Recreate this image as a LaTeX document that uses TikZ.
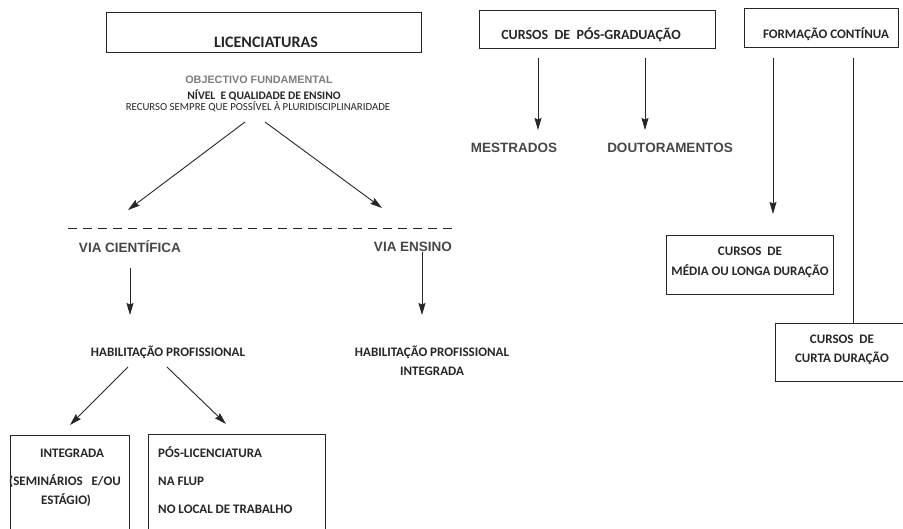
\documentclass[tikz,border=0pt]{standalone}
\usepackage{fontspec}
\setmainfont{Carlito}
\newfontfamily\heavyfont{Liberation Sans}
\usetikzlibrary{arrows.meta}
\definecolor{ink}{RGB}{38,38,38}
\definecolor{faded}{RGB}{125,125,125}
\definecolor{shade}{RGB}{70,70,70}

\begin{document}
\begin{tikzpicture}[x=1pt, y=-1pt,
  >={Stealth[length=12pt,width=7pt,inset=1.5pt]},
  box/.style={draw=ink, line width=0.9pt, inner sep=0pt},
  txt/.style={text=ink, inner sep=0pt, font=\fontsize{13}{15}\selectfont\bfseries},
  head/.style={text=ink, inner sep=0pt, font=\fontsize{16}{18}\selectfont\bfseries},
  thick/.style={text=shade, inner sep=0pt, font=\heavyfont\fontsize{13.5}{15}\selectfont\bfseries},
  arr/.style={->, draw=ink, line width=0.9pt}]

\useasboundingbox (0,0) rectangle (903,528);
\clip (0,0) rectangle (903,528);

% licenciaturas
\node[box, minimum width=315pt, minimum height=40pt] (lic) at (263.5,32) {};
\node[head] (lic-t) at (266,42) {LICENCIATURAS};
\node[text=faded, inner sep=0pt, font=\heavyfont\fontsize{10.8}{12}\selectfont\bfseries] (obj) at (259,80) {OBJECTIVO FUNDAMENTAL};
\node[text=ink, inner sep=0pt, font=\fontsize{11.5}{12}\selectfont\bfseries] (niv) at (264,95) {NÍVEL\ \ E QUALIDADE DE ENSINO};
\node[text=ink, inner sep=0pt, font=\fontsize{10.8}{12}\selectfont] (rec) at (258,107) {RECURSO SEMPRE QUE POSSÍVEL À PLURIDISCIPLINARIDADE};
\coordinate (rec-l) at (245,122);
\coordinate (rec-r) at (265,122);
\coordinate (via-l) at (128,210);
\coordinate (via-r) at (382,208);
\draw[arr] (rec-l) -- (via-l);
\draw[arr] (rec-r) -- (via-r);

% dashed divide
\coordinate (cut-a) at (68,228);
\coordinate (cut-b) at (455,228);
\draw[ink, line width=0.8pt, dash pattern=on 9pt off 6pt] (cut-a) -- (cut-b);

% the two ways
\node[thick] (cien) at (130,247) {VIA CIENTÍFICA};
\node[thick] (ens) at (413,247) {VIA ENSINO};
\node[txt] (hab) at (168,352) {HABILITAÇÃO PROFISSIONAL};
\node[txt, align=center, font=\fontsize{13}{19}\selectfont\bfseries] (habi) at (432,361) {HABILITAÇÃO PROFISSIONAL\\INTEGRADA};
\draw[arr] (cien.south |- 0,268) -- (cien.south |- 0,315);
\draw[arr] (ens.south -| 422,0) -- (422,315);

% after the habilitation
\coordinate (hab-l) at (128,367);
\coordinate (hab-r) at (167,367);
\coordinate (int-n) at (70,425);
\coordinate (pos-n) at (226,424);
\draw[arr] (hab-l) -- (int-n);
\draw[arr] (hab-r) -- (pos-n);

\node[box, minimum width=119pt, minimum height=105pt] (int) at (69.5,487.5) {};
\node[txt] (int-a) at (72,453) {INTEGRADA};
\node[txt] (int-b) at (65,481) {(SEMINÁRIOS\ \ \ E/OU};
\node[txt] (int-c) at (66,500) {ESTÁGIO)};

\node[box, minimum width=177pt, minimum height=106pt] (pos) at (236.5,487) {};
\node[txt, anchor=west] (pos-a) at (158,452) {PÓS-LICENCIATURA};
\node[txt, anchor=west] (pos-b) at (158,481) {NA FLUP};
\node[txt, anchor=west] (pos-c) at (158,509) {NO LOCAL DE TRABALHO};

% pos-graduacao
\node[box, minimum width=236pt, minimum height=38pt] (cpg) at (597,29) {};
\node[txt, font=\fontsize{14}{16}\selectfont\bfseries] (cpg-t) at (591,35) {CURSOS\ \ DE\ \ PÓS-GRADUAÇÃO};
\node[thick] (mes) at (514,148) {MESTRADOS};
\node[thick] (dout) at (670,148) {DOUTORAMENTOS};
\coordinate (cpg-l) at (538,58);
\coordinate (cpg-r) at (645,58);
\draw[arr] (cpg-l) -- (538,130);
\draw[arr] (cpg-r) -- (645,130);

% formacao continua
\node[box, minimum width=154pt, minimum height=39pt] (fc) at (821,27.5) {};
\node[txt] (fc-t) at (826,34) {FORMAÇÃO CONTÍNUA};
\node[box, minimum width=167pt, minimum height=59pt] (med) at (749.5,264.5) {};
\node[txt, align=center, font=\fontsize{13}{20}\selectfont\bfseries] (med-t) at (750,262) {CURSOS\ \ DE\\MÉDIA OU LONGA DURAÇÃO};
\node[box, minimum width=145pt, minimum height=58pt] (cur) at (847.5,352) {};
\node[txt, align=center, font=\fontsize{13}{19}\selectfont\bfseries] (cur-t) at (842,350) {CURSOS\ \ DE\\CURTA DURAÇÃO};
\coordinate (fc-l) at (773,58);
\coordinate (fc-r) at (853,58);
\draw[arr] (fc-l) -- (773,214);
\draw[ink, line width=0.9pt] (fc-r) -- (fc-r |- cur.north);
\end{tikzpicture}
\end{document}
